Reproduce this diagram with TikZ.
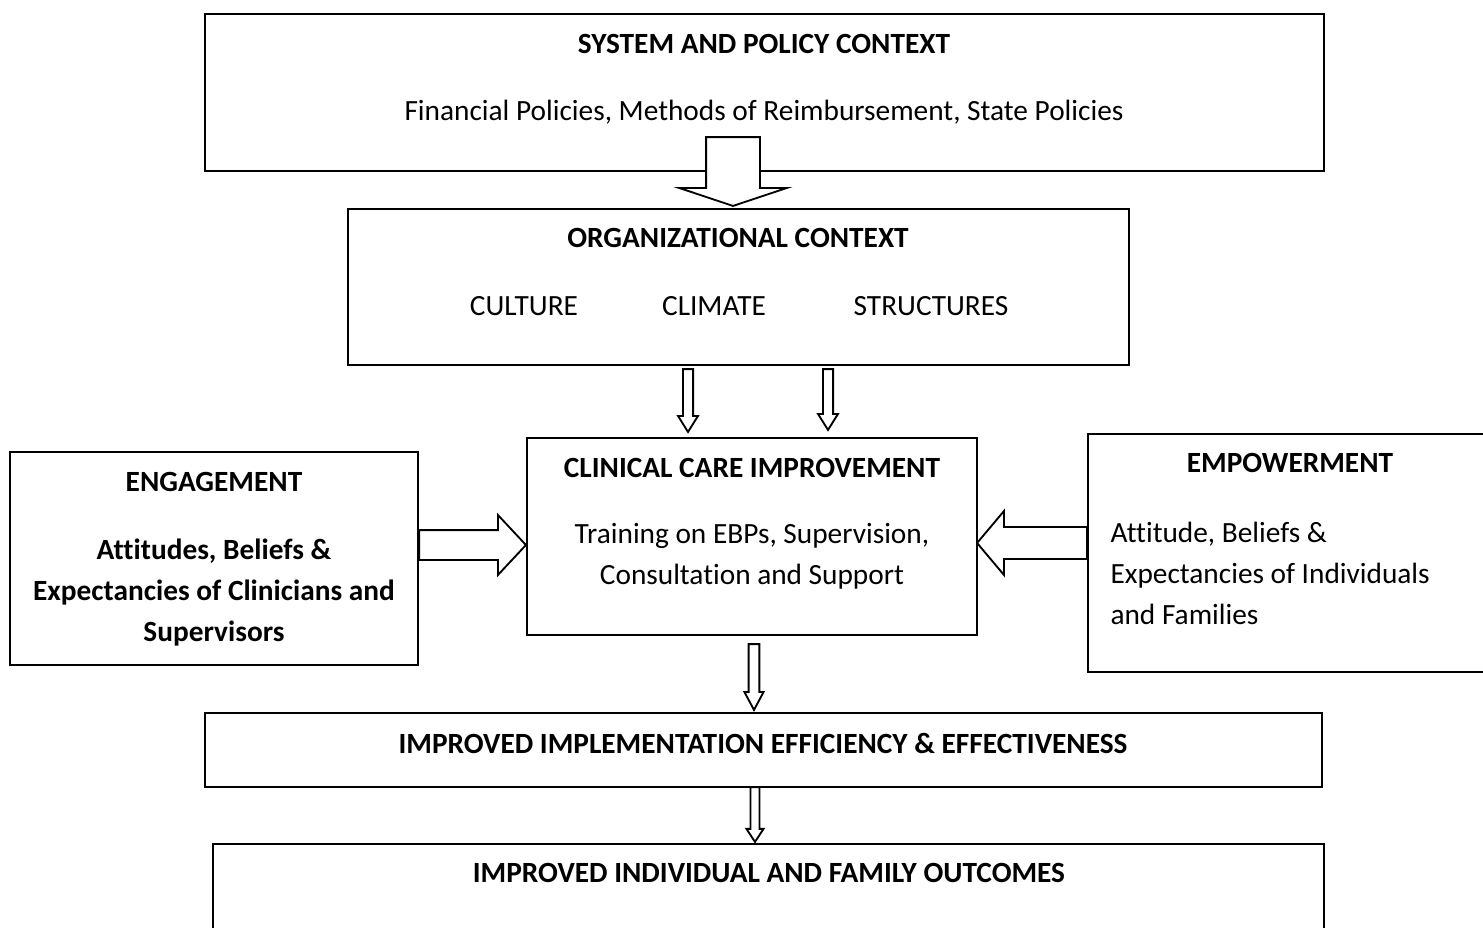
\documentclass[tikz,border=0pt]{standalone}
\usepackage{fontspec}
\setmainfont{Carlito}[Ligatures=NoCommon]
\usetikzlibrary{positioning,calc,fit}

\newcommand{\basefont}{\fontsize{11}{15.4}\selectfont}

% hollow block arrow: #1 start, #2 tip, #3 half shaft width, #4 half head width, #5 head length
\newcommand{\blockarrow}[5]{%
    \coordinate (hb) at ($(#2)!#5!(#1)$);
    \draw[fatarrow] ($(#1)!#3!90:(#2)$) -- ($(hb)!#3!-90:(#1)$) -- ($(hb)!#4!-90:(#1)$)
        -- (#2) -- ($(hb)!#4!90:(#1)$) -- ($(hb)!#3!90:(#1)$) -- ($(#1)!#3!-90:(#2)$) -- cycle;
}

\tikzset{
    box/.style={draw, line width=0.8pt, inner sep=0pt, rectangle},
    fatarrow/.style={draw, fill=white, line width=0.7pt, line join=miter},
    title/.style={font=\basefont\bfseries},
    txt/.style={align=center}
}

\begin{document}
\begin{tikzpicture}[x=0.375pt, y=-0.375pt, font=\basefont]
    \useasboundingbox (0,0) rectangle (1483,928);
    \clip (0,0) rectangle (1483,928);

    % System and policy context
    \node[box, fit={(205,14) (1324,171)}] (sys) {};
    \node[title] (sys-t) at (764,44) {SYSTEM AND POLICY CONTEXT};
    \node (sys-b) at (764,112) {Financial Policies, Methods of Reimbursement, State Policies};

    % Organizational context
    \node[box, fit={(348,209) (1129,365)}] (org) {};
    \node[title] (org-t) at (738,238) {ORGANIZATIONAL CONTEXT};
    \node (culture) at (524,306) {CULTURE};
    \node (climate) at (714,306) {CLIMATE};
    \node (struct) at (931,306) {STRUCTURES};

    % Clinical care improvement
    \node[box, fit={(527,438) (977,635)}] (care) {};
    \node[title] (care-t) at (752,468) {CLINICAL CARE IMPROVEMENT};
    \node[txt] (care-b) at (752,556) {Training on EBPs, Supervision,\\Consultation and Support};

    % Engagement
    \node[box, fit={(10,452) (418,665)}] (engage) {};
    \node[title] (engage-t) at (214,482) {ENGAGEMENT};
    \node[txt, title] (engage-b) at (214,592.5) {Attitudes, Beliefs \&\\Expectancies of Clinicians and\\Supervisors};

    % Empowerment
    \node[box, fit={(1088,434) (1500,672)}] (empower) {};
    \node[title] (empower-t) at (1290,463) {EMPOWERMENT};
    \node[align=left, anchor=west, inner sep=0pt] (empower-b) at (1110,573) {Attitude, Beliefs \&\\Expectancies of Individuals\\and Families};

    % Implementation
    \node[box, fit={(205,713) (1322,787)}] (effic) {};
    \node[title] (effic-t) at (763,743) {IMPROVED IMPLEMENTATION EFFICIENCY \& EFFECTIVENESS};

    % Outcomes
    \node[box, fit={(213,844) (1324,960)}] (outcome) {};
    \node[title] (outcome-t) at (769,873) {IMPROVED INDIVIDUAL AND FAMILY OUTCOMES};

    % arrow ends
    \coordinate (s1) at ($(sys.south)+(-31.5,-35)$);
    \coordinate (e1) at ($(org.north)+(-5.5,-2)$);
    \coordinate (s2) at ($(org.south)+(-50.5,3)$);
    \coordinate (e2) at ($(care.north)+(-64,-5)$);
    \coordinate (s3) at ($(org.south)+(89.5,3)$);
    \coordinate (e3) at ($(care.north)+(76,-7)$);
    \coordinate (s4) at ($(engage.east)+(0,-13.5)$);
    \coordinate (e4) at ($(care.west)+(0,8.5)$);
    \coordinate (s5) at ($(empower.west)+(0,-10)$);
    \coordinate (e5) at ($(care.east)+(-1,6.5)$);
    \coordinate (s6) at ($(care.south)+(2,8)$);
    \coordinate (e6) at ($(effic.north)+(-9.5,-2)$);
    \coordinate (s7) at ($(effic.south)+(-8.5,-1)$);
    \coordinate (e7) at ($(outcome.north)+(-13.5,-1)$);

    \blockarrow{s1}{e1}{10.1pt}{20.2pt}{6.75pt}
    \blockarrow{s2}{e2}{1.9pt}{3.75pt}{6pt}
    \blockarrow{s3}{e3}{1.9pt}{3.75pt}{6pt}
    \blockarrow{s4}{e4}{5.6pt}{11.25pt}{10.5pt}
    \blockarrow{s5}{e5}{6pt}{12pt}{10.1pt}
    \blockarrow{s6}{e6}{2pt}{3.6pt}{6.75pt}
    \blockarrow{s7}{e7}{1.7pt}{3.2pt}{4.9pt}
\end{tikzpicture}
\end{document}
